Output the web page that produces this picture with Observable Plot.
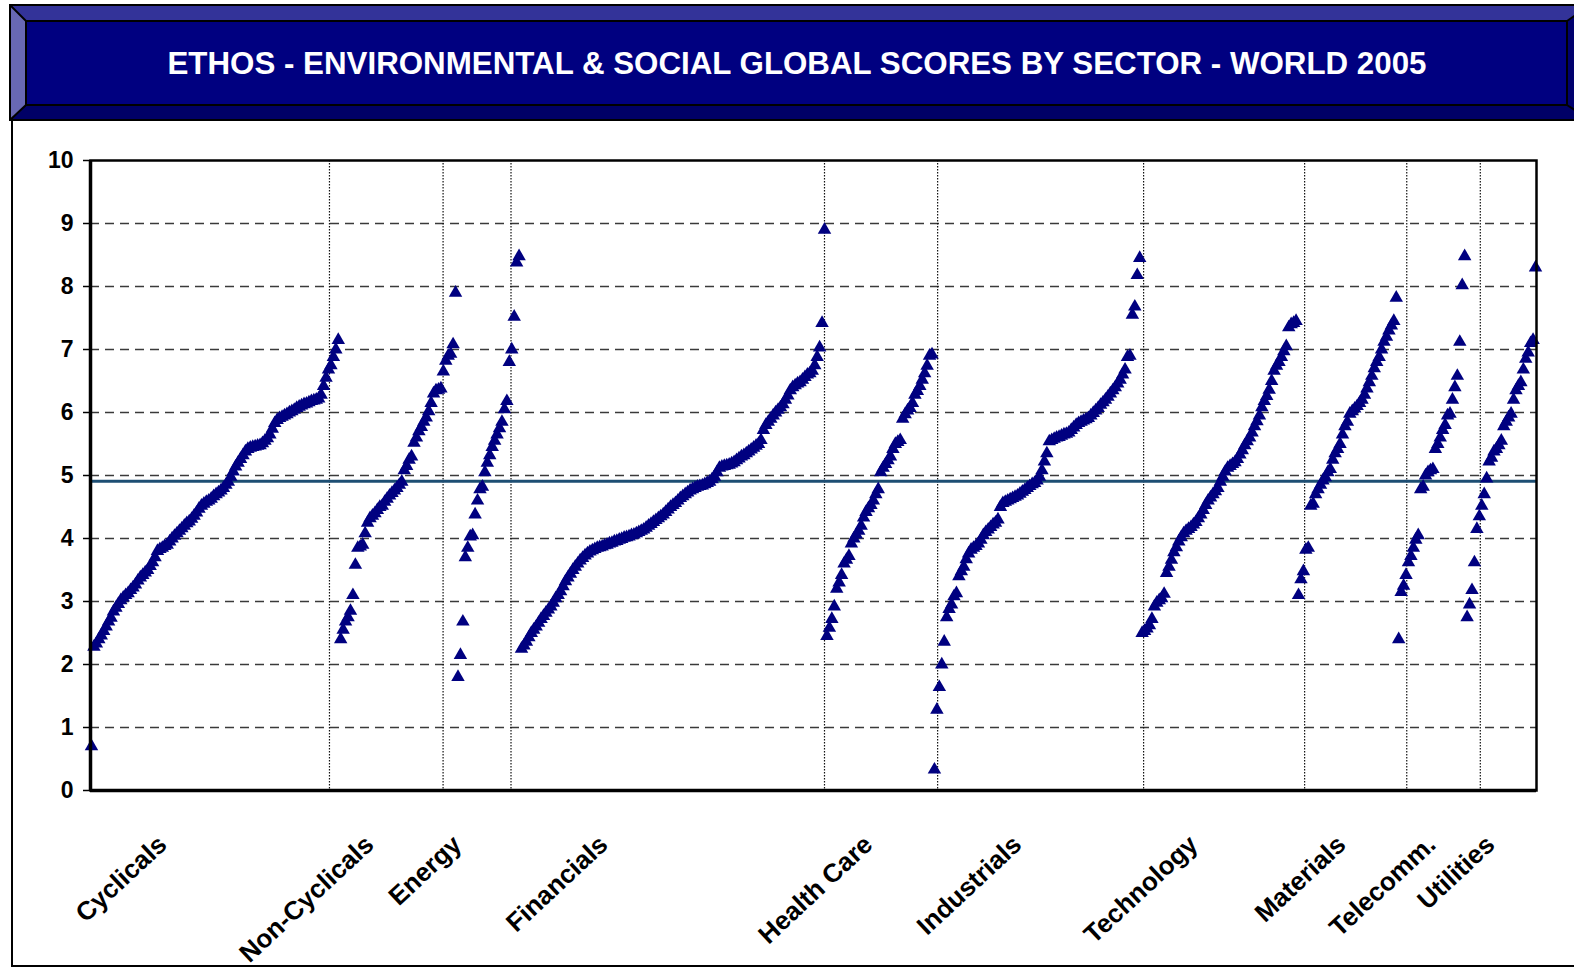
<!DOCTYPE html>
<html>
<head>
<meta charset="utf-8">
<script src="https://cdn.jsdelivr.net/npm/d3@7"></script>
<script src="https://cdn.jsdelivr.net/npm/@observablehq/plot@0.6"></script>
<style>
  body { margin: 0; background: #fff; }
  #page { position: relative; width: 1574px; height: 971px; overflow: hidden; background: #fff;
          font-family: "Liberation Sans", Arial, sans-serif; }
  #banner { position: absolute; left: 0; top: 0; }
  #chart { position: absolute; left: 0; top: 120px; }
  #frameL { position: absolute; left: 11px; top: 118px; width: 2px; height: 849px; background: #000; }
  #frameB { position: absolute; left: 11px; top: 965px; width: 1563px; height: 2px; background: #000; }
</style>
</head>
<body>
<div id="page">
  <svg id="banner" width="1574" height="124">
    <polygon points="10,5 1590,5 1567,21 26,21" fill="#333399"/>
    <polygon points="10,5 26,21 26,105 10,120" fill="#6868b4"/>
    <polygon points="10,120 26,105 1567,105 1590,120" fill="#000066"/>
    <polygon points="1567,21 1590,5 1590,120 1567,105" fill="#00006e"/>
    <rect x="26" y="21" width="1541" height="84" fill="#000080"/>
    <g stroke="#000" stroke-width="2" fill="none">
      <rect x="10" y="5" width="1580" height="115"/>
      <rect x="26" y="21" width="1541" height="84"/>
      <line x1="10" y1="5" x2="26" y2="21"/>
      <line x1="10" y1="120" x2="26" y2="105"/>
      <line x1="1567" y1="21" x2="1590" y2="5"/>
      <line x1="1567" y1="105" x2="1590" y2="120"/>
    </g>
    <text id="title" x="797" y="74" text-anchor="middle" fill="#fff" font-weight="bold" font-size="31.3"
          font-family="Liberation Sans, Arial, sans-serif"></text>
  </svg>
  <div id="chart"></div>
  <div id="frameL"></div>
  <div id="frameB"></div>
</div>
<script>
const titleText = "ETHOS - ENVIRONMENTAL & SOCIAL GLOBAL SCORES BY SECTOR - WORLD 2005";

const sectors = ["Cyclicals", "Non-Cyclicals", "Energy", "Financials", "Health Care",
                 "Industrials", "Technology", "Materials", "Telecomm.", "Utilities"];

const cyclicals = [0.7, 2.28, 2.33, 2.4, 2.46, 2.53, 2.6, 2.68, 2.74, 2.84,
  2.9, 2.96, 3.02, 3.06, 3.1, 3.13, 3.18, 3.22, 3.27, 3.33,
  3.38, 3.42, 3.46, 3.5, 3.56, 3.62, 3.7, 3.8, 3.83, 3.85,
  3.88, 3.9, 3.95, 4.0, 4.04, 4.08, 4.12, 4.16, 4.2, 4.24,
  4.27, 4.31, 4.36, 4.41, 4.47, 4.52, 4.55, 4.58, 4.6, 4.63,
  4.67, 4.7, 4.73, 4.76, 4.8, 4.85, 4.9, 4.98, 5.06, 5.14,
  5.2, 5.26, 5.32, 5.38, 5.42, 5.44, 5.45, 5.46, 5.47, 5.48,
  5.51, 5.55, 5.59, 5.65, 5.74, 5.83, 5.88, 5.91, 5.93, 5.95,
  5.97, 6.0, 6.02, 6.04, 6.07, 6.09, 6.11, 6.13, 6.14, 6.16,
  6.18, 6.19, 6.2, 6.22, 6.28, 6.42, 6.55, 6.68, 6.75, 6.88,
  7.0, 7.15];

const nonCyclicals = [2.4, 2.55, 2.68, 2.75, 2.85, 3.1, 3.58, 3.85, 3.87, 3.9,
  4.08, 4.25, 4.32, 4.36, 4.4, 4.45, 4.5, 4.52, 4.58, 4.63,
  4.68, 4.72, 4.76, 4.8, 4.85, 4.9, 5.08, 5.15, 5.25, 5.3,
  5.52, 5.6, 5.7, 5.77, 5.85, 5.92, 6.02, 6.15, 6.3, 6.35,
  6.36, 6.38, 6.65, 6.82, 6.9, 6.93, 7.08, 7.9];

const energy = [1.8, 2.15, 2.68, 3.7, 3.85, 4.03, 4.05, 4.38, 4.6, 4.78,
  4.82, 5.05, 5.2, 5.32, 5.45, 5.55, 5.65, 5.75, 5.85, 6.05,
  6.18, 6.8, 7.0, 7.52, 8.38, 8.48];

const financials = [2.25, 2.3, 2.36, 2.43, 2.5, 2.55, 2.6, 2.66, 2.72, 2.77,
  2.82, 2.87, 2.92, 2.98, 3.05, 3.1, 3.16, 3.24, 3.32, 3.38,
  3.44, 3.5, 3.55, 3.6, 3.65, 3.69, 3.73, 3.76, 3.79, 3.81,
  3.83, 3.85, 3.86, 3.87, 3.89, 3.9, 3.92, 3.93, 3.95, 3.96,
  3.98, 3.99, 4.01, 4.02, 4.03, 4.05, 4.06, 4.08, 4.1, 4.12,
  4.14, 4.17, 4.2, 4.23, 4.26, 4.29, 4.32, 4.35, 4.38, 4.42,
  4.46, 4.5, 4.53, 4.56, 4.6, 4.64, 4.67, 4.7, 4.73, 4.76,
  4.78, 4.8, 4.82, 4.83, 4.84, 4.86, 4.88, 4.9, 4.94, 4.98,
  5.05, 5.12, 5.14, 5.15, 5.16, 5.17, 5.19, 5.21, 5.24, 5.27,
  5.3, 5.32, 5.35, 5.38, 5.41, 5.44, 5.47, 5.5, 5.56, 5.72,
  5.8, 5.85, 5.9, 5.95, 6.0, 6.04, 6.08, 6.13, 6.2, 6.27,
  6.35, 6.4, 6.43, 6.46, 6.48, 6.52, 6.56, 6.6, 6.62, 6.66,
  6.75, 6.88, 7.03, 7.42, 8.9];

const healthCare = [2.45, 2.58, 2.72, 2.92, 3.2, 3.3, 3.42, 3.6, 3.66, 3.72,
  3.92, 4.0, 4.06, 4.12, 4.2, 4.33, 4.42, 4.48, 4.53, 4.6,
  4.7, 4.78, 5.05, 5.12, 5.18, 5.24, 5.3, 5.42, 5.5, 5.53,
  5.56, 5.9, 5.97, 6.03, 6.07, 6.15, 6.28, 6.34, 6.42, 6.52,
  6.62, 6.74, 6.9, 6.92];

const industrials = [0.33, 1.28, 1.64, 2.0, 2.36, 2.75, 2.88, 2.95, 3.08, 3.13,
  3.4, 3.48, 3.55, 3.67, 3.76, 3.82, 3.85, 3.88, 3.92, 3.98,
  4.05, 4.1, 4.14, 4.18, 4.22, 4.25, 4.3, 4.5, 4.56, 4.58,
  4.6, 4.62, 4.64, 4.66, 4.68, 4.71, 4.74, 4.77, 4.8, 4.83,
  4.86, 4.88, 4.92, 4.98, 5.08, 5.22, 5.35, 5.54, 5.56, 5.58,
  5.6, 5.61, 5.63, 5.65, 5.66, 5.68, 5.72, 5.76, 5.8, 5.83,
  5.85, 5.87, 5.89, 5.91, 5.95, 5.99, 6.03, 6.07, 6.12, 6.16,
  6.2, 6.25, 6.3, 6.35, 6.4, 6.46, 6.52, 6.6, 6.68, 6.88,
  6.9, 7.55, 7.68, 8.18, 8.45];

const technology = [2.5, 2.53, 2.57, 2.62, 2.72, 2.92, 2.98, 3.02, 3.05, 3.12,
  3.45, 3.55, 3.66, 3.78, 3.86, 3.95, 4.02, 4.08, 4.12, 4.15,
  4.18, 4.22, 4.26, 4.32, 4.38, 4.45, 4.53, 4.6, 4.65, 4.7,
  4.75, 4.8, 4.9, 4.98, 5.06, 5.12, 5.15, 5.18, 5.21, 5.26,
  5.33, 5.4, 5.48, 5.54, 5.6, 5.68, 5.78, 5.86, 5.95, 6.08,
  6.18, 6.26, 6.36, 6.5, 6.66, 6.74, 6.8, 6.88, 6.97, 7.05,
  7.35, 7.4, 7.42, 7.45];

const materials = [3.1, 3.35, 3.48, 3.82, 3.85, 4.52, 4.55, 4.7, 4.78, 4.85,
  4.92, 4.97, 5.05, 5.1, 5.25, 5.35, 5.42, 5.5, 5.65, 5.78,
  5.85, 5.98, 6.02, 6.06, 6.1, 6.15, 6.2, 6.28, 6.38, 6.48,
  6.58, 6.7, 6.8, 6.88, 7.0, 7.12, 7.2, 7.3, 7.38, 7.45,
  7.82];

const telecomm = [2.4, 3.15, 3.25, 3.42, 3.62, 3.72, 3.85, 3.98, 4.05, 4.78,
  4.82, 5.0, 5.05, 5.08, 5.1, 5.42, 5.5, 5.6, 5.72, 5.8,
  5.95, 5.98, 6.2, 6.4, 6.58, 7.12, 8.02, 8.48];

const utilities = [2.75, 2.95, 3.18, 3.62, 4.15, 4.35, 4.52, 4.7, 4.95, 5.22,
  5.28, 5.38, 5.42, 5.48, 5.55, 5.78, 5.85, 5.92, 5.98, 6.2,
  6.35, 6.42, 6.48, 6.68, 6.85, 6.95, 7.1, 7.15, 8.3];

// positions (in company-index units) of the sector label ticks and the sector separators
const labelPos = [29.1, 113.8, 149.8, 209.6, 318.0, 379.0, 451.1, 511.7, 548.5, 572.6];
const separators = [97.4, 143.9, 171.7, 300.0, 346.3, 430.6, 496.5, 538.3, 568.4];
const yTicks = [0, 1, 2, 3, 4, 5, 6, 7, 8, 9, 10];
const gridValues = [1, 2, 3, 4, 5, 6, 7, 8, 9];
const average = 4.91;

document.getElementById("title").textContent = titleText;

const seriesList = [cyclicals, nonCyclicals, energy, financials, healthCare,
                    industrials, technology, materials, telecomm, utilities];
const points = [];
let idx = 0;
seriesList.forEach((vals, s) => vals.forEach(v => points.push({i: idx++, score: v, sector: sectors[s]})));
const n = points.length;

const chart = Plot.plot({
  width: 1574,
  height: 851,
  marginTop: 40,
  marginBottom: 181,
  marginLeft: 90,
  marginRight: 38,
  style: {fontFamily: '"Liberation Sans", Arial, sans-serif', background: "transparent", color: "#000", overflow: "visible"},
  x: {domain: [-0.4, n - 1 + 0.4], axis: null},
  y: {domain: [0, 10], axis: null},
  marks: [
    Plot.ruleY(gridValues, {stroke: "#3a3a3a", strokeWidth: 1.3, strokeDasharray: "9,6"}),
    Plot.ruleX(separators, {stroke: "#111", strokeWidth: 1.2, strokeDasharray: "1.5,1.5"}),
    Plot.ruleY([average], {stroke: "#1d4e73", strokeWidth: 3}),
    Plot.dot(points, {x: "i", y: "score", symbol: "triangle", r: 5, fill: "#000080"}),
    Plot.frame({stroke: "#000", strokeWidth: 2.5}),
    Plot.ruleX([-0.4], {stroke: "#000", strokeWidth: 3.5}),
    Plot.ruleY([0], {stroke: "#000", strokeWidth: 3.5}),
    Plot.axisY(yTicks, {tickSize: 7, tickPadding: 10, fontSize: 23, fontWeight: "bold", stroke: "#000",
                        strokeWidth: 1.5, label: null, tickFormat: d => String(d)}),
    Plot.text(sectors, {x: (d, i) => labelPos[i], y: () => 0, dy: 50, rotate: -43, textAnchor: "end",
                        fontSize: 26, fontWeight: "bold", fill: "#000"})
  ]
});
document.getElementById("chart").appendChild(chart);
</script>
</body>
</html>
